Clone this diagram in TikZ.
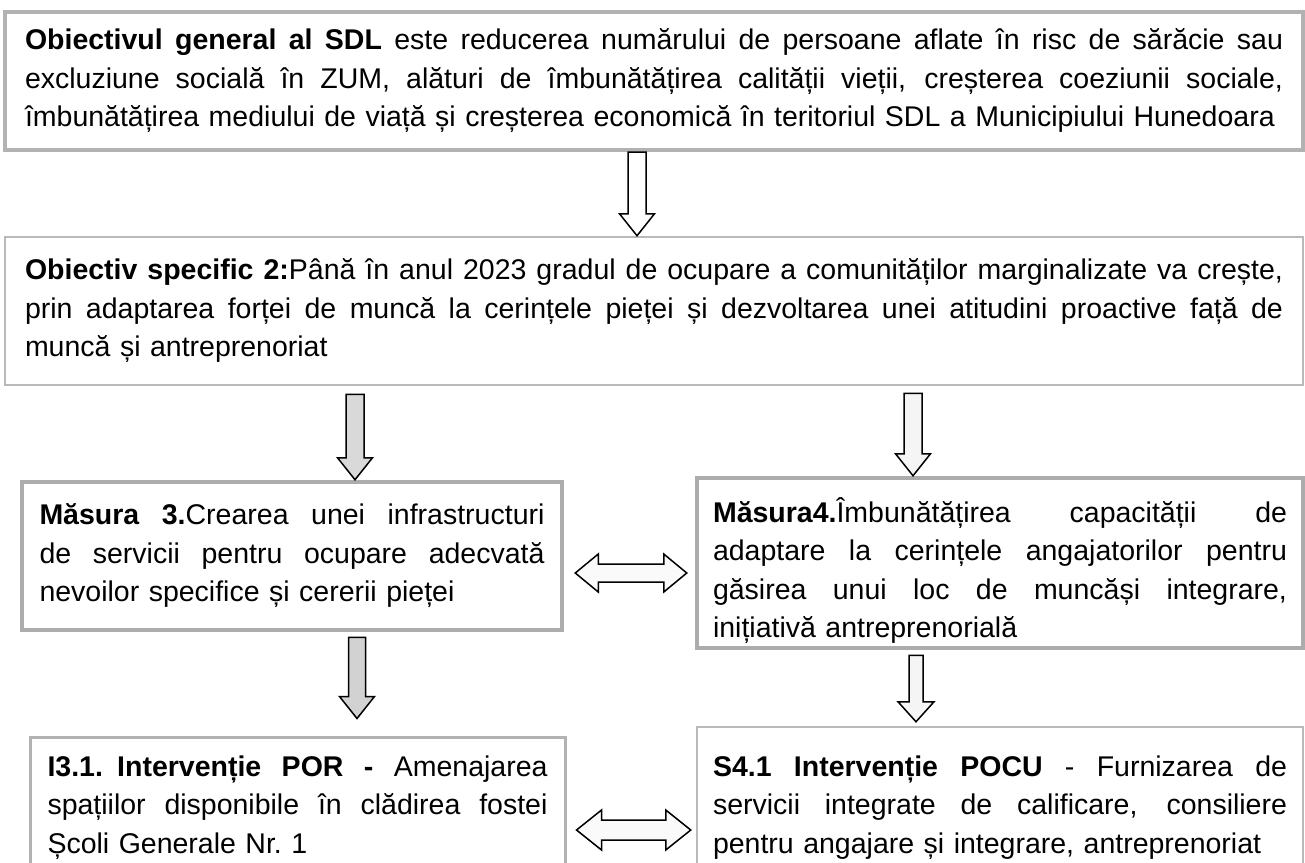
\documentclass[tikz,border=0pt]{standalone}
\usepackage{fontspec}
\setmainfont{Liberation Sans}
\usetikzlibrary{calc}
% justified line of given width
\newcommand\jl[2]{\makebox[#1pt][s]{\spaceskip=\fontdimen2\font plus 4\fontdimen2\font\relax #2}}
% vertical block arrow: start, end, shaft half, head half, head length, style
\newcommand\varrow[6]{\draw[#6] let \p1=(#1), \p2=(#2) in
  (\x1-#3pt,\y1) -- (\x1-#3pt,\y2+#5pt) -- (\x1-#4pt,\y2+#5pt) -- (\x1,\y2)
  -- (\x1+#4pt,\y2+#5pt) -- (\x1+#3pt,\y2+#5pt) -- (\x1+#3pt,\y1) -- cycle;}
% horizontal double block arrow: left tip, right tip, shaft half, head half, head length, style
\newcommand\harrow[6]{\draw[#6] let \p1=(#1), \p2=(#2) in
  (\x1,\y1) -- (\x1+#5pt,\y1+#4pt) -- (\x1+#5pt,\y1+#3pt) -- (\x2-#5pt,\y1+#3pt)
  -- (\x2-#5pt,\y1+#4pt) -- (\x2,\y1) -- (\x2-#5pt,\y1-#4pt) -- (\x2-#5pt,\y1-#3pt)
  -- (\x1+#5pt,\y1-#3pt) -- (\x1+#5pt,\y1-#4pt) -- cycle;}
\begin{document}
\begin{tikzpicture}[x=1pt,y=-1pt,
  every node/.style={font=\fontsize{28.5}{38.5}\selectfont, text=black},
  box/.style={draw, inner ysep=0pt},
  wide/.style={box, minimum width=1298pt, text width=1258pt, inner xsep=20pt},
  blockarrow/.style={draw=black, line width=1.5pt, line join=miter}]
\useasboundingbox (0,0) rectangle (1305,862);
\fill[white] (0,0) rectangle (1305,862);
\clip (0,0) rectangle (1305,862);

\node[wide, draw=gray!60, line width=4pt, minimum height=138pt] (b1) at (654,81) {%
\jl{1258}{\textbf{Obiectivul general al SDL} este reducerea numărului de persoane aflate în risc de sărăcie sau}\\
\jl{1258}{excluziune socială în ZUM, alături de îmbunătățirea calității vieții, creșterea coeziunii sociale,}\\
îmbunătățirea mediului de viață și creșterea economică în teritoriul SDL a Municipiului Hunedoara};

\node[wide, draw=gray!55, line width=2.5pt, minimum height=148pt] (b2) at (654,311) {%
\jl{1258}{\textbf{Obiectiv specific 2:}Până în anul 2023 gradul de ocupare a comunităților marginalizate va crește,}\\
\jl{1258}{prin adaptarea forței de muncă la cerințele pieței și dezvoltarea unei atitudini proactive față de}\\
muncă și antreprenoriat};

\node[box, draw=gray!65, line width=4.5pt, minimum width=540pt, text width=505pt, inner xsep=17.5pt, minimum height=148pt] (b3) at (292,556) {%
\jl{505}{\textbf{Măsura 3.}Crearea unei infrastructuri}\\
\jl{505}{de servicii pentru ocupare adecvată}\\
nevoilor specifice și cererii pieței};

\node[box, draw=gray!65, line width=4.5pt, minimum width=606pt, text width=574pt, inner xsep=16pt, minimum height=170pt] (b4) at (1000,563) {%
\rule{0pt}{40pt}\jl{574}{\textbf{Măsura4.}Îmbunătățirea capacității de}\\
\jl{574}{adaptare la cerințele angajatorilor pentru}\\
\jl{574}{găsirea unui loc de muncăși integrare,}\\
inițiativă antreprenorială};

\node[box, draw=gray!60, line width=3pt, minimum width=535pt, text width=500pt, inner xsep=17.5pt, minimum height=141pt] (b5) at (297.5,807.5) {%
\jl{500}{\textbf{I3.1. Intervenție POR -} Amenajarea}\\
\jl{500}{spațiilor disponibile în clădirea fostei}\\
Școli Generale Nr.\ 1};

\node[box, draw=gray!55, line width=2.5pt, minimum width=606pt, text width=574pt, inner xsep=16pt, minimum height=161pt] (b6) at (1000,807.5) {%
\jl{574}{\textbf{S4.1 Intervenție POCU} - Furnizarea de}\\
\jl{574}{servicii integrate de calificare, consiliere}\\
pentru angajare și integrare, antreprenoriat};

\varrow{$(b1.south)+(-17,0)$}{b2.north}{9}{17.5}{22}{blockarrow, fill=white}
\varrow{$(b2.south)+(-299,8)$}{b3.north}{9}{17.5}{22}{blockarrow, fill=gray!30}
\varrow{$(b2.south)+(259,7)$}{b4.north}{9}{17.5}{22}{blockarrow, fill=gray!8}
\varrow{$(b3.south)+(65,5)$}{$(b5.north)+(0,-17)$}{8.5}{17.5}{22}{blockarrow, fill=gray!35}
\varrow{$(b4.south)+(-84,5)$}{$(b6.north)+(0,-4)$}{7}{18}{20}{blockarrow, fill=gray!8}

\harrow{$(b3.east)+(11,17)$}{$(b4.west)+(-8,10)$}{9}{19}{23}{blockarrow, fill=gray!4}
\harrow{$(b5.east)+(10,22.5)$}{$(b6.west)+(-5,22.5)$}{10}{20}{25}{blockarrow, fill=gray!4}
\end{tikzpicture}
\end{document}
